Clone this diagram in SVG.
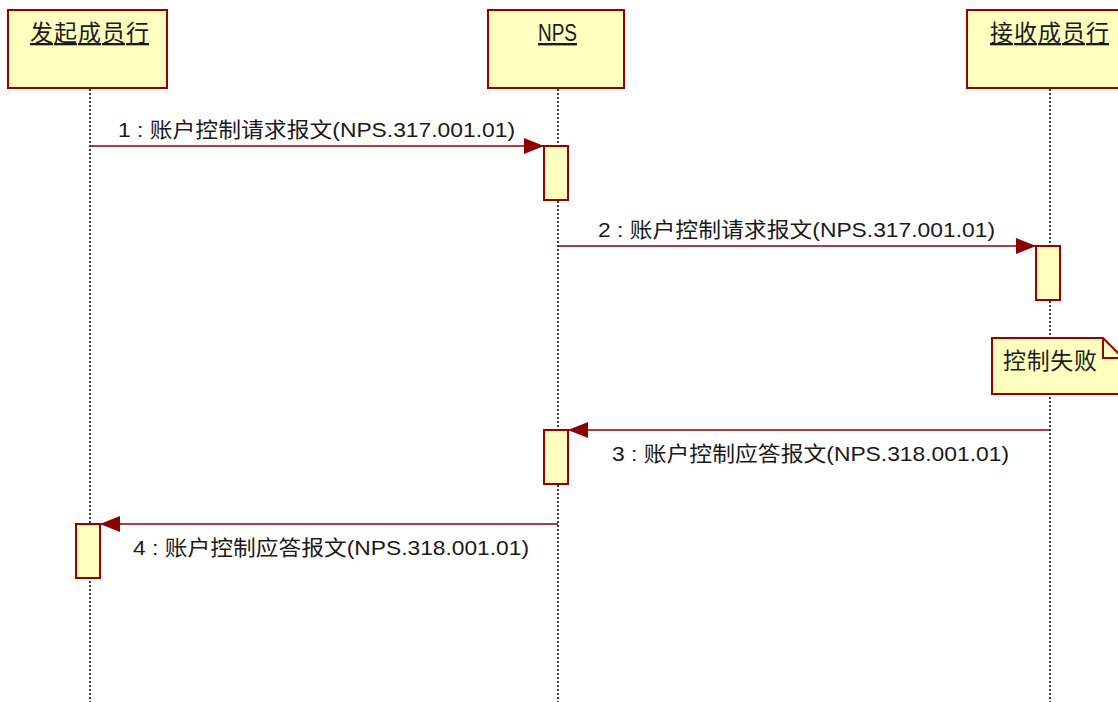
<svg xmlns="http://www.w3.org/2000/svg" width="1118" height="702" viewBox="0 0 1118 702">
<style>
.box{fill:#FFFFC0;stroke:#990000;stroke-width:2}
.life{stroke:#000;stroke-width:1.5;stroke-dasharray:2,2;fill:none}
.msg{stroke:#8B0000;stroke-width:1.5;fill:none}
.t{font-family:"Liberation Sans","Noto Sans CJK SC",sans-serif;fill:#1a1a1a}
.title{font-size:23px;text-decoration:underline}
.lbl{font-size:21px}
</style>
<defs>
<marker id="ah" markerWidth="20" markerHeight="16" refX="20" refY="8" orient="auto" markerUnits="userSpaceOnUse">
<path d="M0,0 L20,8 L0,16 Z" fill="#8B0000"/>
</marker>
</defs>
<g id="lifelines">
<line class="life" x1="90" y1="89" x2="90" y2="702"/>
<line class="life" x1="558" y1="89" x2="558" y2="702"/>
<line class="life" x1="1050" y1="89" x2="1050" y2="702"/>
</g>
<g id="sender">
<rect class="box" x="8" y="10" width="159" height="78"/>
<text class="t title" x="30" y="41" textLength="119" lengthAdjust="spacing">发起成员行</text>
</g>
<g id="nps">
<rect class="box" x="488" y="10" width="136" height="78"/>
<text class="t title" x="538" y="41" font-size="24" style="font-size:24px" textLength="39" lengthAdjust="spacingAndGlyphs">NPS</text>
</g>
<g id="receiver">
<rect class="box" x="967" y="10" width="159" height="78"/>
<text class="t title" x="990" y="41" textLength="119" lengthAdjust="spacing">接收成员行</text>
</g>
<g id="activations">
<rect class="box" x="544" y="146" width="24" height="54"/>
<rect class="box" x="1036" y="246" width="24" height="54"/>
<rect class="box" x="544" y="430" width="24" height="54"/>
<rect class="box" x="76" y="524" width="24" height="54"/>
</g>
<g id="note">
<path class="box" d="M992,338 L1103,338 L1123,358 L1123,394 L992,394 Z"/>
<path d="M1103,338 L1103,358 L1123,358" fill="none" stroke="#990000" stroke-width="2"/>
<text class="t" x="1003" y="369" font-size="23" textLength="94" lengthAdjust="spacing">控制失败</text>
</g>
<g id="connectors">
<line class="msg" x1="90" y1="146" x2="544" y2="146" marker-end="url(#ah)"/>
<line class="msg" x1="558" y1="246" x2="1036" y2="246" marker-end="url(#ah)"/>
<line class="msg" x1="1050" y1="430" x2="568" y2="430" marker-end="url(#ah)"/>
<line class="msg" x1="558" y1="524" x2="100" y2="524" marker-end="url(#ah)"/>
<text class="t lbl" x="118" y="137" textLength="397" lengthAdjust="spacingAndGlyphs">1 : 账户控制请求报文(NPS.317.001.01)</text>
<text class="t lbl" x="598" y="237" textLength="397" lengthAdjust="spacingAndGlyphs">2 : 账户控制请求报文(NPS.317.001.01)</text>
<text class="t lbl" x="612" y="461" textLength="397" lengthAdjust="spacingAndGlyphs">3 : 账户控制应答报文(NPS.318.001.01)</text>
<text class="t lbl" x="133" y="555" textLength="396" lengthAdjust="spacingAndGlyphs">4 : 账户控制应答报文(NPS.318.001.01)</text>
</g>
</svg>
